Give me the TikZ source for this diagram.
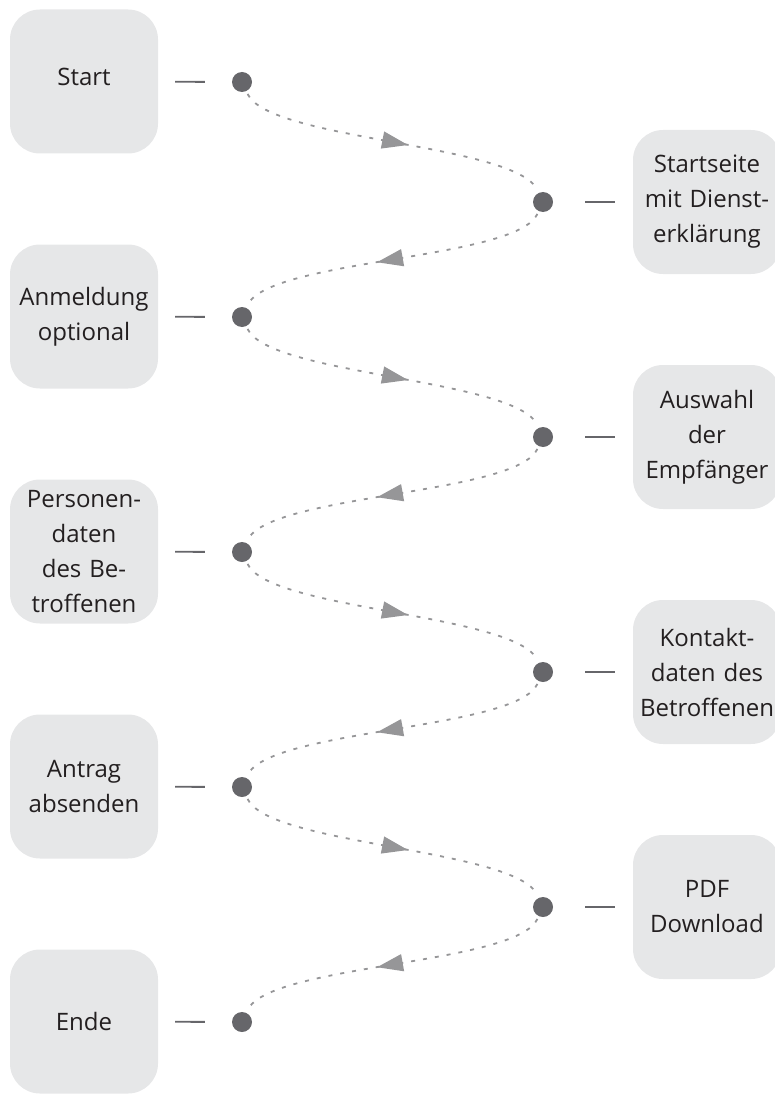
\documentclass[tikz,border=0pt]{standalone}
\usepackage{fontspec}
\setmainfont{Open Sans}
\usepackage{tikz}
\usetikzlibrary{arrows.meta, decorations.markings}
\definecolor{boxgray}{RGB}{230, 231, 232}
\definecolor{dotgray}{RGB}{102, 102, 106}
\definecolor{flowgray}{RGB}{150, 150, 152}
\definecolor{textblack}{RGB}{35, 31, 32}

\tikzset{
  stepbox/.style={fill=boxgray, rounded corners=30pt, minimum width=148pt, minimum height=144pt,
    text width=140pt, align=center, text=textblack, font=\fontsize{24}{35}\selectfont},
  dot/.style={circle, fill=dotgray, minimum size=20pt, inner sep=0pt},
  tick/.style={draw=dotgray, line width=1.8pt},
  flow/.style={draw=flowgray, line width=1.8pt, dash pattern=on 4pt off 8pt, shorten <=3pt, shorten >=3pt,
    looseness=0.45, postaction={decorate}, decoration={markings,
      mark=at position 0.55 with {\arrow[flowgray]{Triangle[length=26pt, width=17pt]}}}}
}

\begin{document}
\begin{tikzpicture}[x=1pt, y=1pt]
  \useasboundingbox (0,0) rectangle (775,-1094);

  % Left steps
  \node[stepbox] (s1) at (84, -81.5) {\raisebox{10pt}{Start}};
  \node[stepbox] (s2) at (84, -316.5) {Anmeldung\\optional};
  \node[stepbox] (s3) at (84, -551.5) {Personen-\\daten\\des Be-\\troffenen};
  \node[stepbox] (s4) at (84, -786.5) {Antrag\\absenden};
  \node[stepbox] (s5) at (84, -1021.5) {Ende};

  % Right steps
  \node[stepbox] (r1) at (707, -202) {Startseite\\mit Dienst-\\erklärung};
  \node[stepbox] (r2) at (707, -437) {Auswahl\\der\\Empfänger};
  \node[stepbox] (r3) at (707, -672) {Kontakt-\\daten des\\Betroffenen};
  \node[stepbox] (r4) at (707, -907) {PDF\\Download};

  % Dots
  \node[dot] (d1) at (242, -82) {};
  \node[dot] (d2) at (242, -317) {};
  \node[dot] (d3) at (242, -552) {};
  \node[dot] (d4) at (242, -787) {};
  \node[dot] (d5) at (242, -1022) {};
  \node[dot] (e1) at (543, -202) {};
  \node[dot] (e2) at (543, -437) {};
  \node[dot] (e3) at (543, -672) {};
  \node[dot] (e4) at (543, -907) {};

  % Short ticks
  \draw[tick, shorten <=17pt, shorten >=27pt] (s1) -- (d1);
  \draw[tick, shorten <=17pt, shorten >=27pt] (s2) -- (d2);
  \draw[tick, shorten <=17pt, shorten >=27pt] (s3) -- (d3);
  \draw[tick, shorten <=17pt, shorten >=27pt] (s4) -- (d4);
  \draw[tick, shorten <=17pt, shorten >=27pt] (s5) -- (d5);
  \draw[tick, shorten <=32pt, shorten >=18pt] (e1) -- (r1);
  \draw[tick, shorten <=32pt, shorten >=18pt] (e2) -- (r2);
  \draw[tick, shorten <=32pt, shorten >=18pt] (e3) -- (r3);
  \draw[tick, shorten <=32pt, shorten >=18pt] (e4) -- (r4);

  % Flow
  \draw[flow] (d1) to[out=-65, in=115] (e1);
  \draw[flow] (e1) to[out=-115, in=65] (d2);
  \draw[flow] (d2) to[out=-65, in=115] (e2);
  \draw[flow] (e2) to[out=-115, in=65] (d3);
  \draw[flow] (d3) to[out=-65, in=115] (e3);
  \draw[flow] (e3) to[out=-115, in=65] (d4);
  \draw[flow] (d4) to[out=-65, in=115] (e4);
  \draw[flow] (e4) to[out=-115, in=65] (d5);
\end{tikzpicture}
\end{document}
